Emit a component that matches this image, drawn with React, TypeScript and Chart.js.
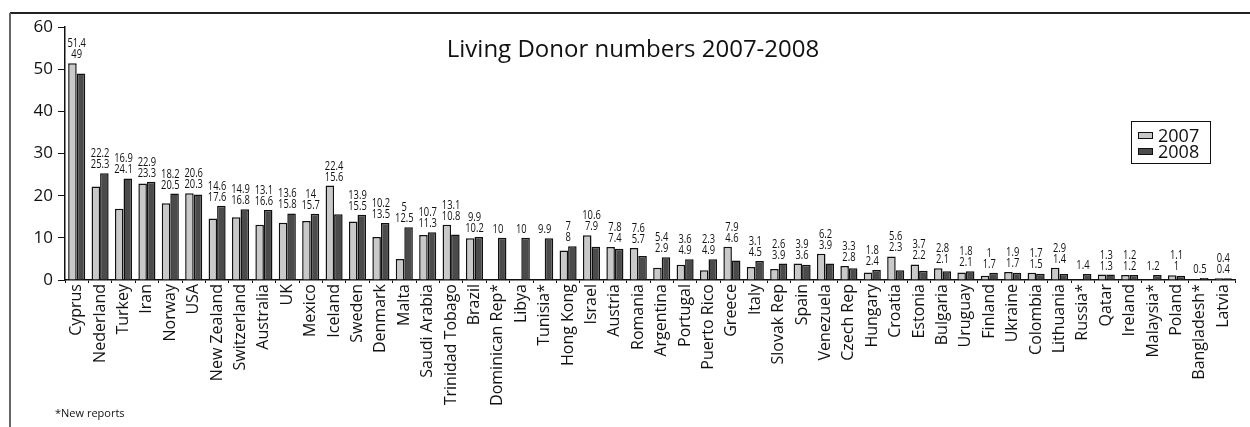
import React, { useEffect, useRef } from "react";
import { Chart, registerables } from "chart.js";

Chart.register(...registerables);

const categories = [
  "Cyprus", "Nederland", "Turkey", "Iran", "Norway", "USA", "New Zealand", "Switzerland",
  "Australia", "UK", "Mexico", "Iceland", "Sweden", "Denmark", "Malta", "Saudi Arabia",
  "Trinidad Tobago", "Brazil", "Dominican Rep*", "Libya", "Tunisia*", "Hong Kong", "Israel",
  "Austria", "Romania", "Argentina", "Portugal", "Puerto Rico", "Greece", "Italy", "Slovak Rep",
  "Spain", "Venezuela", "Czech Rep", "Hungary", "Croatia", "Estonia", "Bulgaria", "Uruguay",
  "Finland", "Ukraine", "Colombia", "Lithuania", "Russia*", "Qatar", "Ireland", "Malaysia*",
  "Poland", "Bangladesh*", "Latvia",
];

const values2007: (number | null)[] = [
  51.4, 22.2, 16.9, 22.9, 18.2, 20.6, 14.6, 14.9, 13.1, 13.6, 14, 22.4, 13.9, 10.2, 5, 10.7,
  13.1, 9.9, null, null, null, 7, 10.6, 7.8, 7.6, 2.9, 3.6, 2.3, 7.9, 3.1, 2.6, 3.9, 6.2, 3.3,
  1.8, 5.6, 3.7, 2.8, 1.8, 1, 1.9, 1.7, 2.9, null, 1.3, 1.2, null, 1.1, null, 0.4,
];

const values2008: (number | null)[] = [
  49, 25.3, 24.1, 23.3, 20.5, 20.3, 17.6, 16.8, 16.6, 15.8, 15.7, 15.6, 15.5, 13.5, 12.5, 11.3,
  10.8, 10.2, 10, 10, 9.9, 8, 7.9, 7.4, 5.7, 5.4, 4.9, 4.9, 4.6, 4.5, 3.9, 3.6, 3.9, 2.8, 2.4,
  2.3, 2.2, 2.1, 2.1, 1.7, 1.7, 1.5, 1.4, 1.4, 1.3, 1.2, 1.2, 1, 0.5, 0.4,
];

// categories whose two value labels are printed in reversed order in the original
const reversedLabelCategories = ["Argentina"];

const yTicks = [0, 10, 20, 30, 40, 50, 60];
const seriesNames = ["2007", "2008"];
const titleText = "Living Donor numbers 2007-2008";
const footnoteText = "*New reports";

const LIGHT = "#c9c9c9";
const DARK = "#4b4b4b";

const decorPlugin = {
  id: "decor",
  beforeDraw(chart: any) {
    const ctx = chart.ctx;
    ctx.save();
    ctx.fillStyle = "#fff";
    ctx.fillRect(0, 0, chart.width, chart.height);
    ctx.restore();
  },
  afterDraw(chart: any) {
    const ctx = chart.ctx;
    ctx.save();
    // frame
    ctx.strokeStyle = "#222";
    ctx.lineWidth = 2;
    ctx.beginPath();
    ctx.moveTo(10, 13);
    ctx.lineTo(chart.width, 13);
    ctx.stroke();
    ctx.strokeStyle = "#666";
    ctx.beginPath();
    ctx.moveTo(10, 13);
    ctx.lineTo(10, chart.height);
    ctx.stroke();

    // title
    ctx.fillStyle = "#111";
    ctx.font = "24px 'Open Sans'";
    ctx.textAlign = "center";
    ctx.textBaseline = "alphabetic";
    ctx.fillText(titleText, 633, 57);

    // legend
    ctx.strokeStyle = "#111";
    ctx.lineWidth = 1;
    ctx.strokeRect(1131.5, 121.5, 79, 42);
    const colors = [LIGHT, DARK];
    ctx.font = "18px 'Open Sans'";
    ctx.textAlign = "left";
    seriesNames.forEach((name, k) => {
      const y = 132 + k * 16;
      ctx.fillStyle = colors[k];
      ctx.fillRect(1138, y, 15, 6);
      ctx.strokeRect(1138.5, y + 0.5, 14, 6);
      ctx.fillStyle = "#111";
      ctx.fillText(name, 1158, y + 10);
    });

    // footnote
    ctx.font = "11px 'Open Sans'";
    ctx.fillStyle = "#111";
    ctx.fillText(footnoteText, 55, 417);
    ctx.restore();
  },
  afterDatasetsDraw(chart: any) {
    const ctx = chart.ctx;
    const xScale = chart.scales.x;
    const yScale = chart.scales.y;
    ctx.save();
    ctx.font = "13px 'Open Sans'";
    ctx.fillStyle = "#111";
    ctx.textAlign = "center";
    ctx.textBaseline = "alphabetic";
    categories.forEach((cat, i) => {
      const vals = [values2007[i], values2008[i]].filter((v) => v !== null) as number[];
      if (!vals.length) return;
      let lines = vals.map((v) => String(v));
      if (reversedLabelCategories.includes(cat)) lines = lines.reverse();
      const top = yScale.getPixelForValue(Math.max(...vals));
      const x = xScale.getPixelForValue(i);
      for (let k = lines.length - 1, row = 0; k >= 0; k--, row++) {
        ctx.save();
        ctx.translate(x, top - 5 - row * 11);
        ctx.scale(0.72, 1);
        ctx.fillText(lines[k], 0, 0);
        ctx.restore();
      }
    });
    ctx.restore();
  },
};

export default function App() {
  const ref = useRef<HTMLCanvasElement | null>(null);
  useEffect(() => {
    if (!ref.current) return;
    const chart = new Chart(ref.current, {
      type: "bar",
      data: {
        labels: categories,
        datasets: [
          {
            label: seriesNames[0],
            data: values2007,
            backgroundColor: LIGHT,
            borderColor: "#111",
            borderWidth: 1.5,
            categoryPercentage: 0.73,
            barPercentage: 1,
          },
          {
            label: seriesNames[1],
            data: values2008,
            backgroundColor: DARK,
            borderColor: "#111",
            borderWidth: 1.5,
            categoryPercentage: 0.73,
            barPercentage: 1,
          },
        ],
      },
      options: {
        animation: false,
        responsive: false,
        layout: { padding: { left: 0, top: 27, right: 15, bottom: 0 } },
        plugins: {
          legend: { display: false },
          tooltip: { enabled: false },
          title: { display: false },
        },
        scales: {
          x: {
            grid: { display: true, drawOnChartArea: false, drawTicks: true, tickLength: 3, color: "#111", offset: true },
            border: { display: true, color: "#111", width: 1.5 },
            ticks: {
              autoSkip: false,
              maxRotation: 90,
              minRotation: 90,
              color: "#111",
              padding: 1,
              font: { family: "'Open Sans'", size: 16 },
            },
            afterFit: (s: any) => {
              s.height = 147;
            },
          },
          y: {
            min: 0,
            max: 60,
            afterBuildTicks: (s: any) => {
              s.ticks = yTicks.map((v) => ({ value: v }));
            },
            grid: { display: true, drawOnChartArea: false, drawTicks: true, tickLength: 7, color: "#111" },
            border: { display: true, color: "#111", width: 1.5 },
            ticks: {
              color: "#111",
              padding: 5,
              font: { family: "'Open Sans'", size: 17 },
            },
            afterFit: (s: any) => {
              s.width = 65;
            },
          },
        },
      },
      plugins: [decorPlugin],
    });
    return () => chart.destroy();
  }, []);
  return (
    <div style={{ position: "fixed", left: 0, top: 0, width: 1250, height: 427, background: "#fff" }}>
      <canvas ref={ref} width={1250} height={427} style={{ display: "block" }} />
    </div>
  );
}
